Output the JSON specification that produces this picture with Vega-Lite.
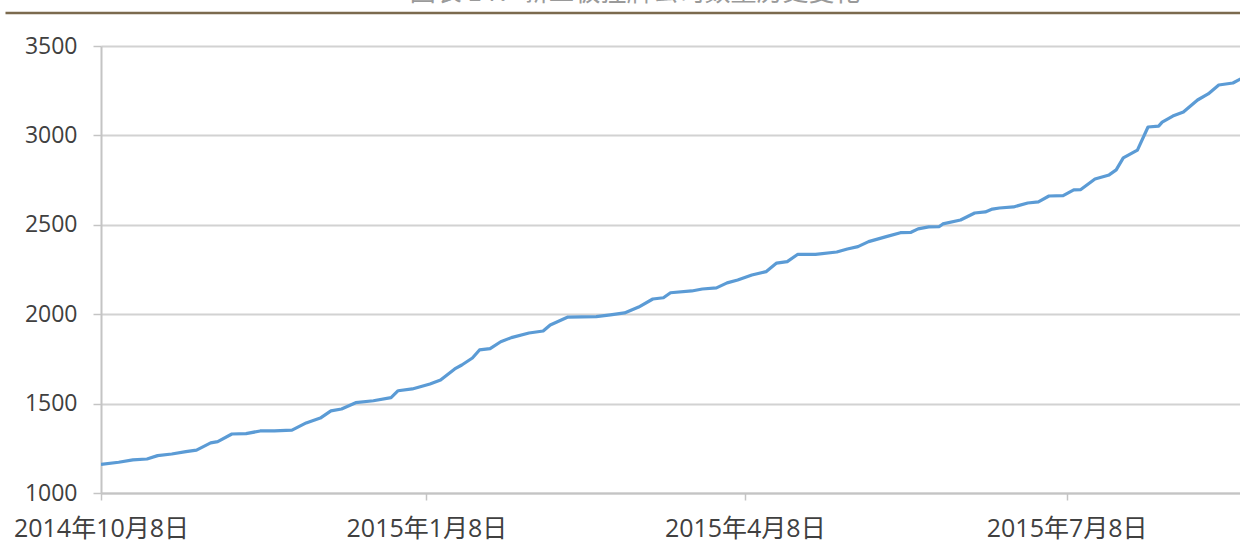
{
  "$schema": "https://vega.github.io/schema/vega-lite/v6.json",
  "autosize": {"type": "none"},
  "width": 1139,
  "height": 447,
  "padding": {"left": 101, "top": 46, "right": 0, "bottom": 61},
  "background": "#ffffff",
  "config": {
    "view": {"stroke": null},
    "axis": {
      "labelFont": "Open Sans, Noto Sans CJK SC",
      "labelColor": "#404040",
      "domainColor": "#c4c4c4",
      "domainWidth": 2,
      "tickColor": "#c4c4c4",
      "tickWidth": 1.5,
      "gridColor": "#d2d2d2",
      "gridWidth": 2
    }
  },
  "layer": [
    {
      "data": {
        "values": [
          {"date": "2014-10-08", "count": 1160},
          {"date": "2014-10-13", "count": 1172},
          {"date": "2014-10-17", "count": 1185},
          {"date": "2014-10-21", "count": 1190},
          {"date": "2014-10-24", "count": 1209},
          {"date": "2014-10-28", "count": 1218},
          {"date": "2014-11-01", "count": 1231},
          {"date": "2014-11-04", "count": 1240},
          {"date": "2014-11-08", "count": 1280},
          {"date": "2014-11-10", "count": 1287},
          {"date": "2014-11-14", "count": 1330},
          {"date": "2014-11-18", "count": 1332},
          {"date": "2014-11-22", "count": 1347},
          {"date": "2014-11-26", "count": 1347},
          {"date": "2014-12-01", "count": 1352},
          {"date": "2014-12-05", "count": 1392},
          {"date": "2014-12-09", "count": 1419},
          {"date": "2014-12-12", "count": 1459},
          {"date": "2014-12-15", "count": 1470},
          {"date": "2014-12-19", "count": 1505},
          {"date": "2014-12-24", "count": 1516},
          {"date": "2014-12-29", "count": 1533},
          {"date": "2014-12-31", "count": 1572},
          {"date": "2015-01-04", "count": 1582},
          {"date": "2015-01-06", "count": 1593},
          {"date": "2015-01-09", "count": 1610},
          {"date": "2015-01-12", "count": 1632},
          {"date": "2015-01-16", "count": 1694},
          {"date": "2015-01-18", "count": 1716},
          {"date": "2015-01-21", "count": 1755},
          {"date": "2015-01-23", "count": 1800},
          {"date": "2015-01-26", "count": 1807},
          {"date": "2015-01-29", "count": 1846},
          {"date": "2015-02-01", "count": 1869},
          {"date": "2015-02-06", "count": 1895},
          {"date": "2015-02-10", "count": 1906},
          {"date": "2015-02-12", "count": 1940},
          {"date": "2015-02-17", "count": 1984},
          {"date": "2015-02-25", "count": 1986},
          {"date": "2015-03-01", "count": 1996},
          {"date": "2015-03-05", "count": 2007},
          {"date": "2015-03-09", "count": 2040},
          {"date": "2015-03-13", "count": 2085},
          {"date": "2015-03-16", "count": 2092},
          {"date": "2015-03-18", "count": 2120},
          {"date": "2015-03-24", "count": 2130},
          {"date": "2015-03-27", "count": 2141},
          {"date": "2015-03-31", "count": 2147},
          {"date": "2015-04-03", "count": 2175},
          {"date": "2015-04-06", "count": 2191},
          {"date": "2015-04-10", "count": 2219},
          {"date": "2015-04-14", "count": 2238},
          {"date": "2015-04-17", "count": 2286},
          {"date": "2015-04-20", "count": 2294},
          {"date": "2015-04-23", "count": 2335},
          {"date": "2015-04-28", "count": 2335},
          {"date": "2015-05-04", "count": 2348},
          {"date": "2015-05-07", "count": 2365},
          {"date": "2015-05-10", "count": 2378},
          {"date": "2015-05-13", "count": 2406},
          {"date": "2015-05-18", "count": 2434},
          {"date": "2015-05-22", "count": 2456},
          {"date": "2015-05-25", "count": 2458},
          {"date": "2015-05-27", "count": 2477},
          {"date": "2015-05-30", "count": 2488},
          {"date": "2015-06-02", "count": 2490},
          {"date": "2015-06-03", "count": 2505},
          {"date": "2015-06-08", "count": 2527},
          {"date": "2015-06-12", "count": 2566},
          {"date": "2015-06-15", "count": 2572},
          {"date": "2015-06-17", "count": 2588},
          {"date": "2015-06-19", "count": 2594},
          {"date": "2015-06-23", "count": 2600},
          {"date": "2015-06-27", "count": 2622},
          {"date": "2015-06-30", "count": 2628},
          {"date": "2015-07-03", "count": 2661},
          {"date": "2015-07-07", "count": 2663},
          {"date": "2015-07-10", "count": 2695},
          {"date": "2015-07-12", "count": 2697},
          {"date": "2015-07-16", "count": 2756},
          {"date": "2015-07-20", "count": 2779},
          {"date": "2015-07-22", "count": 2807},
          {"date": "2015-07-24", "count": 2874},
          {"date": "2015-07-28", "count": 2918},
          {"date": "2015-07-31", "count": 3047},
          {"date": "2015-08-03", "count": 3052},
          {"date": "2015-08-04", "count": 3074},
          {"date": "2015-08-07", "count": 3108},
          {"date": "2015-08-10", "count": 3131},
          {"date": "2015-08-14", "count": 3198},
          {"date": "2015-08-17", "count": 3232},
          {"date": "2015-08-20", "count": 3282},
          {"date": "2015-08-24", "count": 3293},
          {"date": "2015-08-27", "count": 3325}
        ]
      },
      "mark": {"type": "line", "color": "#5b9bd5", "strokeWidth": 3.2, "clip": true, "strokeJoin": "round"},
      "encoding": {
        "x": {
          "field": "date",
          "type": "temporal",
          "scale": {
            "type": "utc",
            "domain": [
              {"year": 2014, "month": 10, "date": 8, "utc": true},
              {"year": 2015, "month": 8, "date": 26, "utc": true}
            ]
          },
          "axis": {
            "title": null,
            "grid": false,
            "values": [
              {"year": 2014, "month": 10, "date": 8, "utc": true},
              {"year": 2015, "month": 1, "date": 8, "utc": true},
              {"year": 2015, "month": 4, "date": 8, "utc": true},
              {"year": 2015, "month": 7, "date": 8, "utc": true}
            ],
            "format": "%Y年%-m月%-d日",
            "tickSize": 7,
            "labelPadding": 16,
            "labelFontSize": 25,
            "labelFlush": false,
            "labelOverlap": false,
            "zindex": 1
          }
        },
        "y": {
          "field": "count",
          "type": "quantitative",
          "scale": {"domain": [1000, 3500], "nice": false, "zero": false},
          "axis": {
            "title": null,
            "values": [1000, 1500, 2000, 2500, 3000, 3500],
            "format": "d",
            "tickSize": 8,
            "labelPadding": 16,
            "labelFontSize": 23,
            "grid": true
          }
        }
      }
    },
    {
      "data": {"values": [{}]},
      "mark": {"type": "rule", "color": "#7b6a4e", "strokeWidth": 2.5, "clip": false},
      "encoding": {
        "x": {
          "datum": {"year": 2014, "month": 9, "date": 11, "utc": true},
          "type": "temporal",
          "axis": {
            "title": null,
            "grid": false,
            "values": [
              {"year": 2014, "month": 10, "date": 8, "utc": true},
              {"year": 2015, "month": 1, "date": 8, "utc": true},
              {"year": 2015, "month": 4, "date": 8, "utc": true},
              {"year": 2015, "month": 7, "date": 8, "utc": true}
            ],
            "format": "%Y年%-m月%-d日",
            "tickSize": 7,
            "labelPadding": 16,
            "labelFontSize": 25,
            "labelFlush": false,
            "labelOverlap": false,
            "zindex": 1
          }
        },
        "x2": {"datum": {"year": 2015, "month": 9, "date": 30, "utc": true}},
        "y": {
          "datum": 3685,
          "type": "quantitative",
          "axis": {
            "title": null,
            "values": [1000, 1500, 2000, 2500, 3000, 3500],
            "format": "d",
            "tickSize": 8,
            "labelPadding": 16,
            "labelFontSize": 23,
            "grid": true
          }
        }
      }
    },
    {
      "data": {"values": [{"label": "图表 14：新三板挂牌公司数量历史变化"}]},
      "mark": {
        "type": "text",
        "clip": false,
        "align": "center",
        "baseline": "alphabetic",
        "font": "Noto Sans CJK SC",
        "fontSize": 26,
        "color": "#9a9a9a"
      },
      "encoding": {
        "text": {"field": "label"},
        "x": {
          "datum": {"year": 2015, "month": 3, "date": 8, "utc": true},
          "type": "temporal",
          "axis": {
            "title": null,
            "grid": false,
            "values": [
              {"year": 2014, "month": 10, "date": 8, "utc": true},
              {"year": 2015, "month": 1, "date": 8, "utc": true},
              {"year": 2015, "month": 4, "date": 8, "utc": true},
              {"year": 2015, "month": 7, "date": 8, "utc": true}
            ],
            "format": "%Y年%-m月%-d日",
            "tickSize": 7,
            "labelPadding": 16,
            "labelFontSize": 25,
            "labelFlush": false,
            "labelOverlap": false,
            "zindex": 1
          }
        },
        "y": {
          "datum": 3749,
          "type": "quantitative",
          "axis": {
            "title": null,
            "values": [1000, 1500, 2000, 2500, 3000, 3500],
            "format": "d",
            "tickSize": 8,
            "labelPadding": 16,
            "labelFontSize": 23,
            "grid": true
          }
        }
      }
    }
  ]
}
